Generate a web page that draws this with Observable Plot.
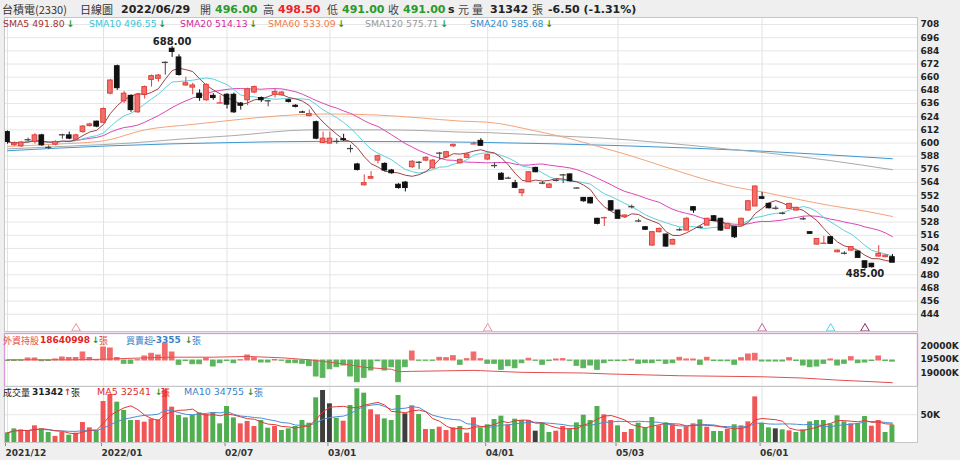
<!DOCTYPE html>
<html><head><meta charset="utf-8">
<script src="https://cdn.jsdelivr.net/npm/d3@7"></script>
<script src="https://cdn.jsdelivr.net/npm/@observablehq/plot@0.6"></script>
<style>
html,body{margin:0;padding:0;background:#efefef;}
#root{position:relative;width:960px;height:460px;overflow:hidden;font-family:"DejaVu Sans",sans-serif;}
#root svg{position:absolute;left:0;}
.abs{position:absolute;white-space:nowrap;transform:translateY(-50%);line-height:1;}
.cjk{font-family:"Noto Sans CJK TC","Noto Sans CJK SC",sans-serif;}
.b{font-weight:bold;font-family:"DejaVu Sans",sans-serif;}
.r{font-family:"DejaVu Sans",sans-serif;}
</style></head><body><div id="root"></div>
<script>
// ---------- data ----------
const monthIdx = [0, 14, 32, 47, 70, 89, 110];
const monthLabels = ["2021/12", "2022/01", "02/07", "03/01", "04/01", "05/03", "06/01"];
const priceTicks = [444, 456, 468, 480, 492, 504, 516, 528, 540, 552, 564, 576, 588, 600, 612, 624, 636, 648, 660, 672, 684, 696, 708];
const holdTicks = [19000, 19500, 20000];
const volTicks = [50000];

const open = [
 610, 598, 597, 603, 601, 607, 596, 598.5, 607.5, 607,
 603, 610, 615.5, 619.5, 618.5, 645, 670, 638, 643, 628,
 644, 657.5, 658.5, 673.5, 686, 678, 652.5, 650.5, 645, 639,
 643, 636.3, 644, 644, 636, 639, 646, 641, 638.5, 644,
 643.5, 639, 634, 628.5, 624.5, 619, 600, 599.5, 601.5, 603.5,
 595, 580.5, 561.5, 567.5, 584, 581, 575, 562, 564, 578,
 582.5, 584, 577, 590.8, 587, 597, 581.6, 586.5, 599, 602,
 585, 579.5, 572, 568, 563.4, 554.3, 564.3, 577.4, 563.5, 559.2,
 566, 571, 571.4, 559, 550, 550, 531, 531.7, 547, 538.5,
 532.4, 542, 529, 523.3, 506.6, 518.8, 516.6, 507.5, 521, 520.3,
 541.6, 523.3, 524.8, 533.3, 531, 521.8, 523.3, 524.8, 538.5, 542.2,
 550.6, 544.6, 540.6, 536, 540, 538.5, 531, 518.8, 507.5, 508.5,
 514.2, 500.5, 499.6, 502, 501.1, 492.3, 490, 496.6, 496, 496];
const high = [
 611, 601, 601.5, 604.5, 608.5, 608, 597.5, 602, 608, 610,
 608, 616, 618, 620, 632, 658, 671, 647, 644, 645,
 652, 662, 662.5, 674, 688, 680.5, 660, 654.5, 648.5, 654,
 645, 643, 645, 645.5, 637, 650, 652, 642, 639, 649,
 647, 640, 635, 629, 630, 620, 610, 610, 604, 608,
 598, 581.5, 571, 574, 589, 582, 576, 563, 565, 584,
 583, 587.5, 585, 591.5, 592.5, 599, 585.5, 590.5, 601, 604,
 590, 582, 573, 569, 566, 558, 574, 578, 565, 563,
 567, 571.5, 572, 559.5, 550.5, 550.5, 531.5, 532.5, 547.5, 539,
 534.5, 543.5, 530.5, 524, 519.5, 522.5, 517, 512.5, 522.5, 532,
 542, 524.5, 531.5, 534, 531.5, 527, 524, 531.5, 547.5, 561,
 555, 545, 542.5, 537, 545, 541.5, 532.5, 519, 513, 515,
 514.5, 502.5, 501, 505.5, 501.5, 492.5, 490.5, 506.6, 498, 498.5];
const low = [
 599, 597, 596, 601.5, 599, 597, 594, 597.5, 603.5, 603,
 602, 609, 614.5, 614, 618, 644, 648, 636, 628, 627,
 640, 651, 655.5, 662, 678, 661, 651.5, 644, 638, 638,
 639, 636, 631, 627, 630, 634, 645, 637, 633, 641,
 642.5, 636.5, 632, 627.5, 624, 603, 599.5, 599, 599, 601.5,
 591, 574.5, 561, 567, 581, 574, 571.5, 558, 555.5, 577,
 576, 583, 576.5, 585, 586, 596, 581, 586, 598.5, 597,
 584, 577, 566, 567, 558.5, 551, 564, 573, 562, 558.5,
 564.5, 563, 564.5, 558.5, 546, 544.5, 525.5, 524, 538, 530.5,
 531.5, 540, 527.5, 520.5, 506, 518, 505, 507, 519.5, 520,
 536, 522, 524.5, 528.5, 519.5, 521.5, 513, 524.5, 538, 542,
 548.5, 540, 539, 534.5, 539.5, 538, 529.5, 517, 507, 508.5,
 507.5, 500, 498, 501.5, 495, 485, 486, 496, 495.5, 491];
const close = [
 601, 599.5, 600.5, 603, 607, 598, 596, 601, 607.5, 604,
 607, 615, 617, 615, 631, 657, 650, 645, 630, 644,
 651, 661, 661.5, 673.5, 683, 662, 654.5, 652.5, 641, 653,
 641, 636.8, 635, 628, 634, 649, 651, 639, 638.5, 646.5,
 646, 637.5, 633, 628, 626.5, 604, 604, 604, 601.5, 602.5,
 595, 575.5, 563.5, 569, 588, 575, 572.5, 559, 559, 583,
 582.5, 586.5, 584, 590.8, 591.7, 598.4, 584.7, 589.5, 599.5, 597.5,
 589, 579.5, 566.5, 568, 559.2, 557.3, 573.4, 573.4, 563.5, 562.2,
 566, 571, 565.2, 559, 547, 545, 526.4, 532.2, 538.5, 531,
 534, 542, 529, 521, 518.8, 521.8, 505.7, 511.7, 521, 531,
 538.5, 523.3, 531, 529, 520.3, 526.4, 514.2, 531, 547, 560.4,
 549.2, 540.6, 540.6, 536, 544.6, 541, 531, 517.3, 512.6, 508.9,
 508.2, 502, 499.6, 505.2, 495.4, 486.3, 486.9, 499, 497.5, 491];
const volume = [
 17400, 24600, 22800, 21600, 30000, 24600, 18000, 11000, 18000, 13200,
 16800, 36000, 26400, 21600, 73900, 86500, 72700, 57700, 39600, 39600,
 36600, 42000, 40800, 94900, 63700, 48600, 44400, 49200, 53400, 50400,
 54000, 33600, 64900, 44400, 33600, 37800, 28800, 39600, 25800, 28800,
 21600, 24600, 28800, 39600, 34800, 80500, 93700, 69700, 43800, 38400,
 66700, 96700, 88900, 58900, 49800, 42600, 39600, 84700, 51600, 66100,
 50400, 23400, 23400, 27600, 21600, 26400, 28800, 16800, 44400, 26400,
 31900, 41400, 47400, 31900, 42000, 39600, 39600, 20400, 34800, 18000,
 20400, 28800, 23400, 35400, 49200, 39600, 64900, 49800, 39600, 30000,
 18000, 23400, 34800, 26400, 45000, 30000, 35400, 31900, 23400, 28200,
 33600, 40800, 27600, 19800, 19800, 24000, 31900, 30000, 37200, 82200,
 34800, 26400, 24600, 22800, 21000, 18000, 22800, 37200, 39600, 39600,
 33000, 48000, 37200, 33600, 34200, 46800, 29400, 39600, 18000, 31342];
const netBuy = [
 -1500, -1500, -900, 6000, 6000, -2100, -1500, 3000, 9000, 7500,
 7500, 24000, 7500, 900, 39000, 36000, 7500, -9900, -9900, 900,
 12000, 20100, 15000, 50100, 24000, -12900, -1500, -11100, -11100, 6000,
 -18000, -8100, -1500, -8100, 900, 15000, 6900, -6000, -6000, 1500,
 -900, -8100, -8100, -9900, -17100, -48000, -51900, -26100, -20100, -15000,
 -48000, -65100, -51900, -30000, -2100, -30000, -20100, -65100, -20100, 27000,
 -900, -900, -900, 8100, 6900, 12900, -12900, 3900, 24000, 3900,
 -9900, -9900, -27900, -17100, -23100, -8100, 5100, -900, -12900, -1500,
 3000, 3900, -900, -15900, -23100, -15000, -27900, -8100, -1500, -1500,
 -1500, 2100, -9900, -8100, -8100, -1500, -9900, -8100, 8100, 3000,
 3000, -12900, 8100, -1500, -2100, -2100, -12900, 6900, 18000, 20100,
 -3000, -3000, -3000, -3000, 6900, -1500, -15000, -20100, -18000, -9900,
 3000, -15000, -9900, 9900, -8100, -6000, -1500, 12000, -1500, -3355];
// foreign holdings (K 張), read at selected days
const holdIdx = [0, 10, 14, 20, 24, 30, 35, 40, 44, 45, 47, 50, 52, 54, 56, 57, 59, 68, 69, 75, 84, 88, 98, 110, 116, 121, 129];
const holdVal = [19489, 19489, 19511, 19560, 19586, 19586, 19613, 19563, 19489, 19462, 19399, 19300, 19211, 19173, 19136, 19049, 19061, 19098, 19086, 19024, 18999, 18962, 18898, 18861, 18812, 18737, 18641];
// long moving averages, read at selected days
const sma60Idx = [0, 7, 14, 20, 27, 33, 40, 47, 54, 60, 66, 70, 77, 82, 86, 90, 96, 100, 106, 110, 115, 120, 125, 129];
const sma60Val = [597, 599, 602, 612, 617, 621, 625, 626.5, 625.5, 623, 620, 619, 611, 604, 597, 590, 578, 570, 560, 555.5, 549, 543, 538, 533.1];
const sma120Idx = [0, 10, 18, 25, 33, 44, 54, 60, 66, 70, 80, 86, 96, 105, 110, 120, 129];
const sma120Val = [594.7, 597.5, 600, 603.5, 606.8, 612, 612, 611.5, 610, 609.5, 606.5, 604.8, 600, 594.5, 591.5, 584, 575.7];
const sma240Idx = [0, 15, 33, 45, 60, 70, 89, 110, 129];
const sma240Val = [593, 597.5, 600.5, 601.5, 601.3, 600.5, 597.7, 592.6, 585.7];
const smaNames = ["SMA5", "SMA10", "SMA20", "SMA60", "SMA120", "SMA240"];
const smaLast = ["491.80", "496.55", "514.13", "533.09", "575.71", "585.68"];
const markerIdx = [10, 70, 110, 120, 125];
const markerKind = ["p", "p", "m", "c", "d"];

// ---------- build ----------
const root = document.getElementById("root");
const N = close.length;
const bars = d3.range(N).map(i => ({
  i, o: open[i], h: high[i], l: low[i], c: close[i], v: volume[i], nb: netBuy[i],
  dir: close[i] > open[i] ? "up" : close[i] < open[i] ? "down" : "flat",
  vdir: i === 0 ? (close[i] >= open[i] ? "up" : "down") : close[i] > close[i-1] ? "up" : close[i] < close[i-1] ? "down" : "flat"
}));
const sma = (arr, n) => arr.map((_, i) => d3.mean(arr.slice(Math.max(0, i - n + 1), i + 1)));
const s5 = sma(close, 5), s10 = sma(close, 10), s20 = sma(close, 20);
const v5 = sma(volume, 5), v10 = sma(volume, 10);

const xDomain = [-0.4373, 132.653];
const C = {up: "#f2706a", upS: "#e2413b", down: "#111", flat: "#444",
  s5: "#9b4343", s10: "#5fd0dc", s20: "#d947b6", s60: "#f3a47a", s120: "#aaaaaa", s240: "#3f97cf",
  vup: "#f25555", vdown: "#4fae4f", vflat: "#3e3e3e", green: "#2a9a2a", red: "#ec2626", blue: "#3a82c8"};
const baseStyle = {background: "transparent", fontFamily: "DejaVu Sans", fontSize: "9px", fontWeight: "bold", color: "#222", overflow: "visible"};
const hw = 0.34;

function place(svg, top) { svg.style.top = top + "px"; root.appendChild(svg); }

const body = bars.filter(d => Math.abs(d.c - d.o) >= 1);
const doji = bars.filter(d => Math.abs(d.c - d.o) < 1);
const hi = bars.reduce((a, b) => b.h > a.h ? b : a);
const lo = bars.reduce((a, b) => b.l < a.l ? b : a);
const candleCol = d => d.dir === "up" ? C.upS : d.dir === "down" ? C.down : C.flat;

const main = Plot.plot({
  width: 960, height: 314, marginTop: 0, marginBottom: 0, marginLeft: 4, marginRight: 43,
  style: baseStyle,
  x: {type: "linear", domain: xDomain, axis: null},
  y: {type: "linear", domain: [428.3, 714.4], axis: null},
  marks: [
    Plot.frame({fill: "white", stroke: "none"}),
    Plot.ruleY(priceTicks, {stroke: "#e6e6e6"}),
    Plot.ruleX(monthIdx, {stroke: "#e2e2e2"}),
    Plot.axisY(priceTicks, {anchor: "right", tickSize: 0, tickPadding: 3, label: null, fill: "#222"}),
    Plot.line(sma240Idx, {x: d => d, y: (d, k) => sma240Val[k], stroke: C.s240, strokeWidth: 1, curve: "monotone-x"}),
    Plot.line(sma120Idx, {x: d => d, y: (d, k) => sma120Val[k], stroke: C.s120, strokeWidth: 1, curve: "monotone-x"}),
    Plot.line(sma60Idx, {x: d => d, y: (d, k) => sma60Val[k], stroke: C.s60, strokeWidth: 1, curve: "monotone-x"}),
    Plot.line(s20, {x: (d, i) => i, y: d => d, stroke: C.s20, strokeWidth: 1}),
    Plot.line(s10, {x: (d, i) => i, y: d => d, stroke: C.s10, strokeWidth: 1}),
    Plot.line(s5, {x: (d, i) => i, y: d => d, stroke: C.s5, strokeWidth: 1}),
    Plot.ruleX(bars, {x: "i", y1: "l", y2: "h", stroke: candleCol, strokeWidth: 1}),
    Plot.rect(body, {x1: d => d.i - hw, x2: d => d.i + hw, y1: "o", y2: "c",
      fill: d => d.dir === "up" ? C.up : C.down, stroke: candleCol, strokeWidth: 1}),
    Plot.ruleY(doji, {y: d => (d.o + d.c) / 2, x1: d => d.i - hw - 0.1, x2: d => d.i + hw + 0.1, stroke: candleCol, strokeWidth: 1.3}),
    Plot.text([hi], {x: "i", y: "h", text: d => d.h.toFixed(2), lineAnchor: "bottom", dy: -1, fontSize: 10, fill: "#222"}),
    Plot.text([lo], {x: "i", y: "l", text: d => d.l.toFixed(2), lineAnchor: "top", dy: 1, fontSize: 10, fill: "#222"}),
    Plot.dot(markerIdx, {x: d => d, frameAnchor: "bottom", dy: -3, symbol: "triangle", r: 3.2, fill: "white", strokeWidth: 1,
      stroke: (d, k) => ({p: "#e596a2", m: "#c9609c", c: "#5ccbe0", d: "#8c2f62"})[markerKind[k]]}),
    Plot.frame({stroke: "#c6c6c6"})
  ]
});
place(main, 17);

const fb = Plot.plot({
  width: 960, height: 53, marginTop: 0, marginBottom: 0, marginLeft: 4, marginRight: 43,
  style: baseStyle,
  x: {type: "linear", domain: xDomain, axis: null},
  y: {type: "linear", domain: [-78000, 81000], axis: null},
  marks: [
    Plot.frame({fill: "white", stroke: "none"}),
    Plot.ruleX(monthIdx, {stroke: "#ececec"}),
    Plot.rect(bars, {x1: d => d.i - hw, x2: d => d.i + hw, y1: d => 0, y2: "nb",
      fill: d => d.nb >= 0 ? "#f26b6b" : "#5cb55c", stroke: d => d.nb >= 0 ? "#f26b6b" : "#5cb55c", strokeWidth: 1})
  ]
});
place(fb, 333);

const fl = Plot.plot({
  width: 960, height: 53, marginTop: 0, marginBottom: 0, marginLeft: 4, marginRight: 43,
  style: baseStyle,
  x: {type: "linear", domain: xDomain, axis: null},
  y: {type: "linear", domain: [18500, 20463], axis: null},
  marks: [
    Plot.line(holdIdx, {x: d => d, y: (d, k) => holdVal[k], stroke: "#e25050", strokeWidth: 1}),
    Plot.axisY(holdTicks, {anchor: "right", tickSize: 0, tickPadding: 3, label: null, tickFormat: d => d + "K", fill: "#222"}),
    Plot.frame({stroke: "#d79ad9", strokeWidth: 1.3})
  ]
});
place(fl, 333);

const vol = Plot.plot({
  width: 960, height: 74, marginTop: 0, marginBottom: 18, marginLeft: 4, marginRight: 43,
  style: baseStyle,
  x: {type: "linear", domain: xDomain},
  y: {type: "linear", domain: [0, 100900], axis: null},
  marks: [
    Plot.frame({fill: "white", stroke: "none"}),
    Plot.ruleY(volTicks, {stroke: "#e6e6e6"}),
    Plot.ruleX(monthIdx, {stroke: "#e2e2e2"}),
    Plot.rect(bars, {x1: d => d.i - hw - 0.02, x2: d => d.i + hw + 0.02, y1: d => 0, y2: "v",
      fill: d => d.vdir === "up" ? C.vup : d.vdir === "down" ? C.vdown : C.vflat}),
    Plot.line(v10, {x: (d, i) => i, y: d => d, stroke: "#4a8fd2", strokeWidth: 1}),
    Plot.line(v5, {x: (d, i) => i, y: d => d, stroke: "#e23a3a", strokeWidth: 1}),
    Plot.axisY(volTicks, {anchor: "right", tickSize: 0, tickPadding: 3, label: null, tickFormat: d => (d / 1000) + "K", fill: "#222"}),
    Plot.axisX(monthIdx, {anchor: "bottom", tickSize: 4, tickPadding: 3, label: null, textAnchor: "start", dx: -2,
      tickFormat: d => monthLabels[monthIdx.indexOf(d)], fill: "#333", stroke: "#888"}),
    Plot.frame({stroke: "#c6c6c6"})
  ]
});
place(vol, 386);

// ---------- text labels ----------
function lab(x, y, txt, cls, color, size, extra) {
  const s = document.createElement("span");
  s.className = "abs " + cls;
  s.style.left = x + "px"; s.style.top = y + "px";
  s.style.color = color; s.style.fontSize = size + "px";
  if (extra) Object.assign(s.style, extra);
  s.textContent = txt;
  root.appendChild(s);
  return s;
}
// header
const hy = 9;
lab(2, hy, "台積電(2330)", "cjk", "#333", 11);
lab(80, hy, "日線圖", "cjk", "#333", 11);
lab(121, hy, "2022/06/29", "b", "#222", 11);
lab(200, hy, "開", "cjk", "#444", 11); lab(215, hy, open[N-1].toFixed(2), "b", C.green, 11);
lab(263, hy, "高", "cjk", "#444", 11); lab(278, hy, high[N-1].toFixed(2), "b", C.red, 11);
lab(327, hy, "低", "cjk", "#444", 11); lab(342, hy, low[N-1].toFixed(2), "b", C.green, 11);
lab(388, hy, "收", "cjk", "#444", 11); lab(403, hy, close[N-1].toFixed(2), "b", C.green, 11);
lab(448, hy, "s", "b", "#222", 11); lab(458, hy, "元", "cjk", "#444", 11);
lab(472, hy, "量", "cjk", "#444", 11); lab(490, hy, String(volume[N-1]), "b", "#222", 11);
lab(532, hy, "張", "cjk", "#444", 11);
const chg = close[N-1] - close[N-2];
lab(548, hy, chg.toFixed(2) + " (" + (chg / close[N-2] * 100).toFixed(2) + "%)", "b", "#222", 11);

// SMA legend
const smaX = [3, 89, 180, 268, 365, 470];
const smaTxtCol = ["#a33232", "#3cc5d6", "#d52aa3", "#f07c4a", "#9a9a9a", "#2f8fd0"];
smaNames.forEach((n, k) => {
  const s = lab(smaX[k], 24, n + " " + smaLast[k], "r", smaTxtCol[k], 9.3);
  const a = document.createElement("span"); a.textContent = "↓";
  a.style.color = C.green; a.style.fontWeight = "bold"; a.style.marginLeft = "2px";
  s.appendChild(a);
});

// foreign panel labels
lab(3, 340, "外資持股", "cjk", "#e24a4a", 9);
lab(40, 340, "18640998", "b", "#e22424", 9);
lab(92, 340, "↓", "b", C.green, 9);
lab(99, 340, "張", "cjk", "#e24a4a", 9);
lab(126, 340, "買賣超", "cjk", C.blue, 9);
lab(152, 340, String(netBuy[N-1]), "b", C.blue, 9);
lab(185, 340, "↓", "b", C.green, 9);
lab(192, 340, "張", "cjk", C.blue, 9);

// volume panel labels
lab(3, 392, "成交量", "cjk", "#222", 9);
lab(32, 392, String(volume[N-1]), "b", "#222", 9);
lab(64, 392, "↑", "b", C.red, 9);
lab(71, 392, "張", "cjk", "#222", 9);
lab(97, 392, "MA5 32541", "r", "#e22a2a", 9.5);
lab(155, 392, "↓", "b", C.green, 9);
lab(161, 392, "張", "cjk", "#e22a2a", 9);
lab(184, 392, "MA10 34755", "r", C.blue, 9.5);
lab(247, 392, "↓", "b", C.green, 9);
lab(254, 392, "張", "cjk", C.blue, 9);
</script></body></html>
